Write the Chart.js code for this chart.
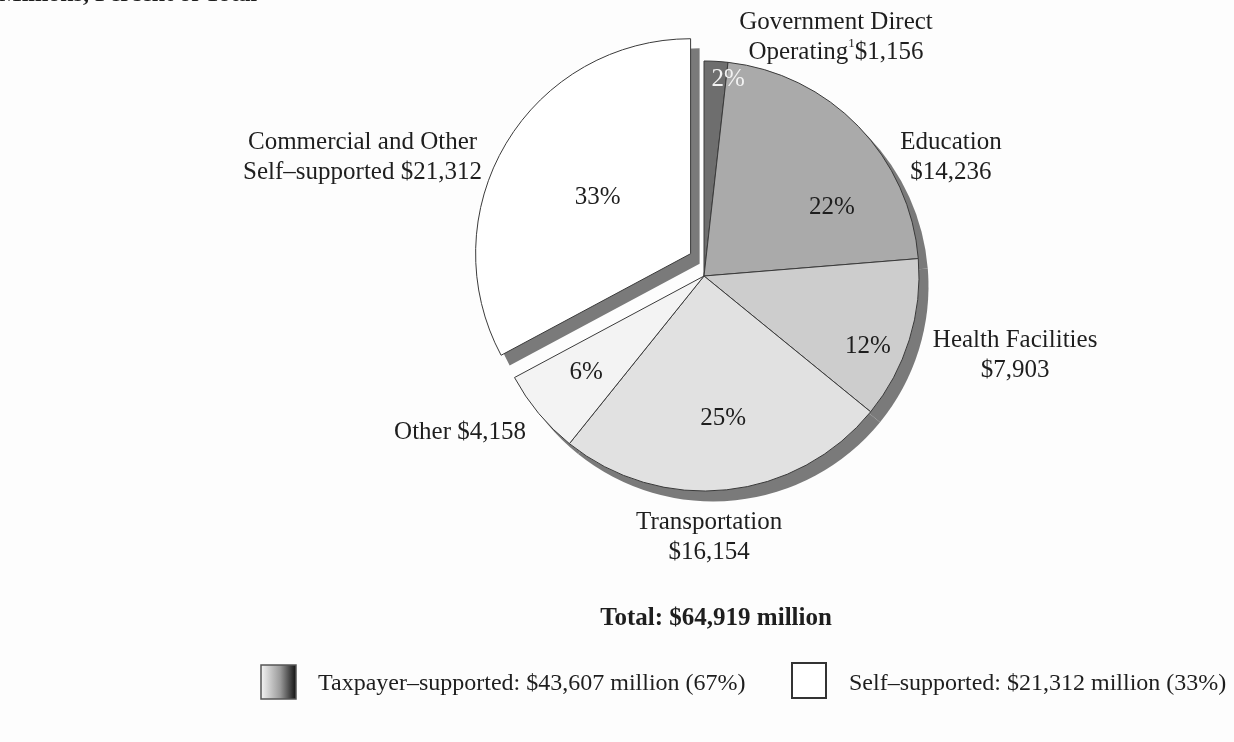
<!DOCTYPE html>
<html>
<head>
<meta charset="utf-8">
<script src="https://cdn.jsdelivr.net/npm/chart.js@4.4.1/dist/chart.umd.min.js"></script>
<style>
  html, body { margin: 0; padding: 0; background: #ffffff; }
  #wrap { position: relative; width: 1234px; height: 742px; overflow: hidden; background: #fdfdfd; }
  #wrap canvas { position: absolute; left: 0; top: 0; }
  #units { position: absolute; left: -1px; top: -20px; font: bold 24px "Liberation Serif", serif; color: #1e1e1e; white-space: nowrap; }
</style>
</head>
<body>
<div id="wrap">
  <canvas id="chart" width="1234" height="742"></canvas>
  <div id="units">Millions, Percent of Total</div>
</div>
<script>
// Debt by purpose, $ millions
const categories = ['Government Direct Operating', 'Education', 'Health Facilities', 'Transportation', 'Other', 'Commercial and Other Self–supported'];
const amounts = [1156, 14236, 7903, 16154, 4158, 21312];
// Which purposes are paid from taxes (true) or are self-supported (false)
const taxpayerSupported = [true, true, true, true, true, false];

// How each category name is broken into lines next to its slice
const nameLines = [['Government Direct', 'Operating'], ['Education'], ['Health Facilities'], ['Transportation'], ['Other'], ['Commercial and Other', 'Self–supported']];
const footnoteMarks = ['1', '', '', '', '', ''];
const amountOnOwnLine = [false, true, true, true, false, false];

// Styling
const sliceColors = ['#6e6e6e', '#aaaaaa', '#cdcdcd', '#e1e1e1', '#f3f3f3', '#ffffff'];
const pctColors = ['#f2f2f2', '#1e1e1e', '#1e1e1e', '#1e1e1e', '#1e1e1e', '#1e1e1e'];
// percent label: angular shift from the slice bisector (deg) and distance as share of radius
const pctShift = [3.8, 16, 6, -1.6, 0.3, 0.2];
const pctDist = [0.92, 0.674, 0.83, 0.667, 0.71, 0.505];
// outer label: angular shift from the bisector (deg) and distance as share of radius
const outerShift = [25.7, 18.4, -3, 4.9, 7.1, -14.6];
const outerDist = [1.27, 1.275, 1.493, 1.214, 1.347, 1.59];

const TEXT = '#1e1e1e';
const SERIF = '"Liberation Serif", "DejaVu Serif", serif';
const FONT_SIZE = 25;
const KEY_FONT_SIZE = 24;

const total = amounts.reduce((s, v) => s + v, 0);
const fmt = v => '$' + v.toLocaleString('en-US');

// Pull one slice away from the centre of the pie
const explodePlugin = {
  id: 'explodeSlice',
  afterDatasetUpdate(chart, args, opts) {
    const el = args.meta.data[opts.index];
    if (!el) return;
    const a = opts.angle * Math.PI / 180;
    el.x += opts.distance * Math.sin(a);
    el.y -= opts.distance * Math.cos(a);
  }
};

// Flat drop shadow underneath every slice
const shadowPlugin = {
  id: 'pieShadow',
  beforeDatasetsDraw(chart, args, opts) {
    const ctx = chart.ctx;
    const meta = chart.getDatasetMeta(0);
    ctx.save();
    ctx.fillStyle = opts.color;
    meta.data.forEach(arc => {
      const p = arc.getProps(['x', 'y', 'startAngle', 'endAngle', 'outerRadius'], true);
      const cx = p.x + opts.dx, cy = p.y + opts.dy;
      ctx.beginPath();
      ctx.moveTo(cx, cy);
      ctx.arc(cx, cy, p.outerRadius + 0.5, p.startAngle, p.endAngle);
      ctx.closePath();
      ctx.fill();
    });
    ctx.restore();
  }
};

function drawSegments(ctx, segs, cx, cy, size) {
  const supSize = Math.round(size * 0.5);
  let w = 0;
  segs.forEach(s => {
    ctx.font = (s.sup ? supSize : size) + 'px ' + SERIF;
    s.w = ctx.measureText(s.t).width;
    w += s.w;
  });
  let x = cx - w / 2;
  segs.forEach(s => {
    ctx.font = (s.sup ? supSize : size) + 'px ' + SERIF;
    ctx.textAlign = 'left';
    ctx.textBaseline = 'middle';
    ctx.fillText(s.t, x, s.sup ? cy - size * 0.32 : cy);
    x += s.w;
  });
}

function outerLines(i) {
  const lines = nameLines[i].map(t => [{ t }]);
  const last = lines[lines.length - 1];
  if (footnoteMarks[i]) last.push({ t: footnoteMarks[i], sup: true });
  if (amountOnOwnLine[i]) lines.push([{ t: fmt(amounts[i]) }]);
  else last.push({ t: (footnoteMarks[i] ? '' : ' ') + fmt(amounts[i]) });
  return lines;
}

// Percent labels inside slices and category labels outside
const labelPlugin = {
  id: 'sliceLabels',
  afterDatasetsDraw(chart, args, opts) {
    const ctx = chart.ctx;
    const meta = chart.getDatasetMeta(0);
    const size = opts.size;
    ctx.save();
    meta.data.forEach((arc, i) => {
      const p = arc.getProps(['x', 'y', 'startAngle', 'endAngle', 'outerRadius'], true);
      const mid = (p.startAngle + p.endAngle) / 2;

      const pa = mid + pctShift[i] * Math.PI / 180;
      const pr = p.outerRadius * pctDist[i];
      ctx.fillStyle = pctColors[i];
      ctx.font = size + 'px ' + SERIF;
      ctx.textAlign = 'center';
      ctx.textBaseline = 'middle';
      ctx.fillText(Math.round(amounts[i] / total * 100) + '%', p.x + Math.cos(pa) * pr, p.y + Math.sin(pa) * pr);

      const oa = mid + outerShift[i] * Math.PI / 180;
      const or = p.outerRadius * outerDist[i];
      const ox = p.x + Math.cos(oa) * or, oy = p.y + Math.sin(oa) * or;
      const lines = outerLines(i);
      ctx.fillStyle = TEXT;
      lines.forEach((segs, k) => {
        drawSegments(ctx, segs, ox, oy + (k - (lines.length - 1) / 2) * opts.lineHeight, size);
      });
    });
    ctx.restore();
  }
};

// Total line and the two-group key beneath the pie
const keyPlugin = {
  id: 'groupKey',
  afterDraw(chart) {
    const ctx = chart.ctx;
    const taxSum = amounts.reduce((s, v, i) => s + (taxpayerSupported[i] ? v : 0), 0);
    const selfSum = total - taxSum;
    const pct = v => Math.round(v / total * 100) + '%';
    ctx.save();
    ctx.fillStyle = TEXT;
    ctx.textBaseline = 'middle';
    ctx.textAlign = 'center';
    ctx.font = 'bold ' + FONT_SIZE + 'px ' + SERIF;
    ctx.fillText('Total: ' + fmt(total) + ' million', 716, 619);

    // taxpayer-supported swatch (grey ramp)
    const g = ctx.createLinearGradient(261, 0, 296, 0);
    g.addColorStop(0, '#f4f4f4');
    g.addColorStop(0.55, '#9a9a9a');
    g.addColorStop(1, '#111111');
    ctx.fillStyle = g;
    ctx.fillRect(261, 665, 35, 34);
    ctx.strokeStyle = '#555';
    ctx.lineWidth = 1.5;
    ctx.strokeRect(261, 665, 35, 34);

    ctx.fillStyle = '#ffffff';
    ctx.fillRect(792, 663, 34, 35);
    ctx.strokeStyle = '#333';
    ctx.lineWidth = 2;
    ctx.strokeRect(792, 663, 34, 35);

    ctx.fillStyle = TEXT;
    ctx.textAlign = 'left';
    ctx.font = KEY_FONT_SIZE + 'px ' + SERIF;
    ctx.fillText('Taxpayer–supported: ' + fmt(taxSum) + ' million (' + pct(taxSum) + ')', 318, 684);
    ctx.fillText('Self–supported: ' + fmt(selfSum) + ' million (' + pct(selfSum) + ')', 849, 684);
    ctx.restore();
  }
};

new Chart(document.getElementById('chart'), {
  type: 'pie',
  data: {
    labels: categories,
    datasets: [{
      data: amounts,
      backgroundColor: sliceColors,
      borderColor: '#3a3a3a',
      borderWidth: 1
    }]
  },
  options: {
    responsive: false,
    animation: false,
    radius: 215,
    layout: { padding: { left: 274, right: 100, top: 50, bottom: 240 } },
    plugins: {
      legend: { display: false },
      tooltip: { enabled: false },
      explodeSlice: { index: 5, distance: 26, angle: -31 },
      pieShadow: { color: '#7a7a7a', dx: 9, dy: 10 },
      sliceLabels: { size: FONT_SIZE, lineHeight: 30 }
    }
  },
  plugins: [explodePlugin, shadowPlugin, labelPlugin, keyPlugin]
});
</script>
</body>
</html>
